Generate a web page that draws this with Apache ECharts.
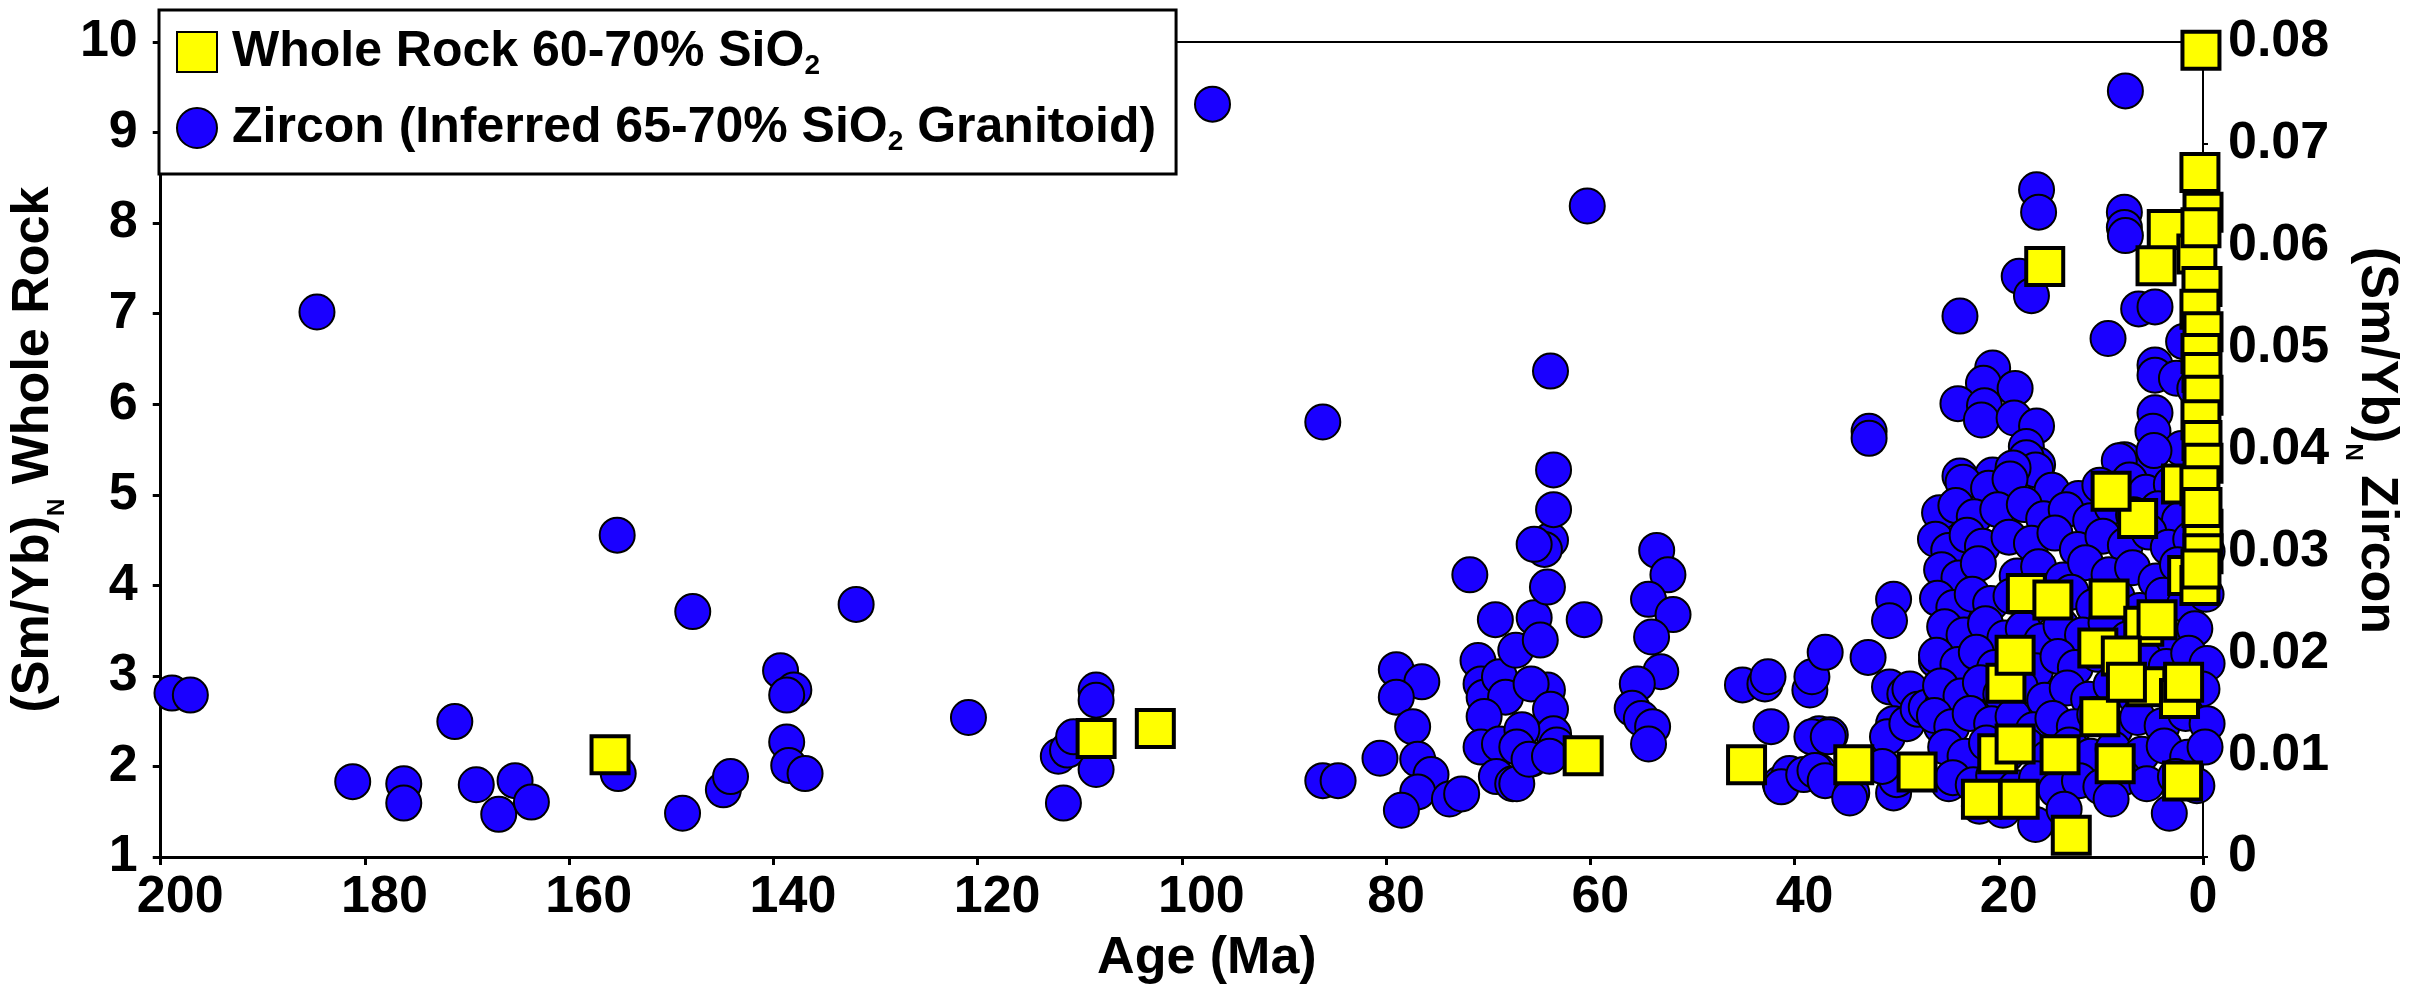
<!DOCTYPE html>
<html><head><meta charset="utf-8">
<script src="https://cdn.jsdelivr.net/npm/echarts@6/dist/echarts.min.js"></script>
<style>html,body{margin:0;padding:0;background:#fff}#c{width:2432px;height:994px}</style>
</head><body><div id="c"></div>
<script>
// ---------- tick labels ----------
const xTickLabels = ['0','20','40','60','80','100','120','140','160','180','200'];
const wholeRockTickLabels = ['1','2','3','4','5','6','7','8','9','10'];
const zirconTickLabels = ['0','0.01','0.02','0.03','0.04','0.05','0.06','0.07','0.08'];

// ---------- series names ----------
const WR_NAME = 'Whole Rock 60-70% SiO2';
const ZR_NAME = 'Zircon (Inferred 65-70% SiO2 Granitoid)';

// ---------- Whole rock: [Age (Ma), (Sm/Yb)N whole rock] ----------
const wholeRockOlder = [
  [156.0,2.13],[108.4,2.31],[102.6,2.42],[60.7,2.12],[44.7,2.02],[34.2,2.02],[28.0,1.94]
];
const wholeRockYoung = [
  [21.7,1.64],[18.0,1.64],[12.9,1.24],[20.1,2.14],[18.4,2.25],[14.0,2.13],[8.6,2.03],[2.0,1.84],
  [10.1,2.55],[19.3,2.92],[18.4,3.23],[17.3,3.91],[14.7,3.84],[9.2,3.85],[5.8,3.55],[4.5,3.62],
  [10.3,3.31],[8.0,3.22],[5.6,2.88],[7.5,2.93],[2.3,2.75],[1.9,2.93],[1.5,4.11],[0.3,4.0],
  [0.0,4.62],[6.4,4.74],[9.0,5.04],[2.1,5.12],[15.5,7.52],[3.5,7.93],[0.6,7.66],[4.6,7.53]
];
const wholeRockModern = [
  [0.2,9.91],[0.3,8.56],[0.0,8.12],[0.2,7.95],[0.1,7.3],[0.3,7.05],[0.0,6.8],[0.2,6.56],
  [0.1,6.35],[0.0,6.1],[0.2,5.83],[0.1,5.6],[0.0,5.35],[0.3,5.1],[0.1,4.86],[0.0,4.35],[0.2,4.18]
];

// ---------- Zircon: [Age (Ma), (Sm/Yb)N zircon] ----------
const zirconOld = [
  [198.9,0.0161],[197.1,0.0159],[184.7,0.0535],[181.2,0.0074],[176.2,0.0072],[176.2,0.0053],
  [171.2,0.0133],[169.1,0.0071],[166.9,0.0042],[165.3,0.0075],[163.7,0.0054],[155.3,0.0316],
  [155.2,0.0082],[147.9,0.0241],[148.9,0.0043],[144.9,0.0066],[144.2,0.0079],[139.3,0.0183],
  [138.0,0.0164],[138.7,0.0159],[138.7,0.0113],[138.5,0.0090],[136.9,0.0082],[131.9,0.0248],
  [120.9,0.0137],[112.1,0.0099],[111.2,0.0105],[110.6,0.0118],[111.6,0.0053],[108.4,0.0164],
  [108.4,0.0154],[108.4,0.0086],[97.0,0.0739],[86.2,0.0427],[86.2,0.0075],[84.7,0.0075]
];
const zirconPaleogene = [
  [80.6,0.0097],[79.0,0.0184],[76.5,0.0172],[79.0,0.0157],[77.4,0.0128],[76.9,0.0096],[75.6,0.0081],
  [76.9,0.0064],[78.5,0.0046],[73.8,0.0057],[72.6,0.0062],[71.8,0.0277],[69.3,0.0233],[71.0,0.0193],
  [70.7,0.0170],[70.4,0.0157],[68.9,0.0177],[68.3,0.0157],[70.4,0.0138],[70.7,0.0108],[68.9,0.0111],
  [69.2,0.0079],[67.6,0.0072],[67.3,0.0203],[65.5,0.0235],[64.9,0.0213],[64.2,0.0265],[63.9,0.0311],
  [63.6,0.0341],[64.5,0.0302],[65.5,0.0307],[64.2,0.0164],[65.8,0.0170],[63.9,0.0145],[63.6,0.0121],
  [65.8,0.0096],[66.7,0.0125],[63.3,0.0110],[60.6,0.0233],[60.3,0.0639],[63.9,0.0477],[63.6,0.0380],
  [67.2,0.0108],[67.2,0.0072],[66.0,0.0096],[64.0,0.0099],[53.5,0.0301],[52.4,0.0277],[54.3,0.0253],
  [51.9,0.0238],[54.0,0.0216],[53.1,0.0182],[55.4,0.0170],[55.9,0.0146],[55.0,0.0136],[53.9,0.0128],
  [54.3,0.0111],[45.1,0.0169],[42.9,0.0170],[42.6,0.0177],[42.3,0.0128],[41.4,0.0072],[40.5,0.0082],
  [41.3,0.0069],[38.5,0.0164],[38.3,0.0177],[37.0,0.0201],[37.6,0.0121],[36.5,0.0120],[39.1,0.0081],
  [37.6,0.0084],[38.3,0.0118],[36.7,0.0118],[38.0,0.0085],[37.0,0.0075],[32.8,0.0196],[32.7,0.0418],
  [32.7,0.0411],[30.7,0.0167],[29.2,0.0160],[30.3,0.0253],[30.7,0.0232],[30.3,0.0131],[30.9,0.0118],
  [29.0,0.0131],[30.3,0.0063],[34.4,0.0063],[30.0,0.0076],[31.4,0.0089],[34.6,0.0058],[28.7,0.0165],
  [27.9,0.0145],[27.1,0.0147]
];
const zirconNeogeneHigh = [
  [26.1,0.0193],[24.6,0.0219],[25.7,0.0131],[25.5,0.0150],[24.9,0.0072],[25.6,0.0128],
  [16.3,0.0655],[16.1,0.0633],[7.7,0.0633],[7.7,0.0618],[7.6,0.0752],[18.0,0.0570],[16.8,0.0551],
  [23.8,0.0531],[6.3,0.0538],[4.7,0.0540],[9.3,0.0509],[1.9,0.0506],[4.7,0.0483],[4.7,0.0473],
  [20.6,0.0480],[21.5,0.0465],[18.4,0.0460],[24.0,0.0445],[21.4,0.0443],[21.7,0.0429],[18.5,0.0431],
  [16.3,0.0423],[17.3,0.0403],[16.2,0.0385],[4.7,0.0436],[4.9,0.0418],[4.7,0.0372],[7.7,0.0390],
  [23.8,0.0374],[20.6,0.0375],[18.4,0.0380],[0.4,0.0404],[2.6,0.0470],[2.1,0.0401],[5.6,0.0379],
  [17.3,0.0392],[16.4,0.0380],[18.6,0.0382],[8.2,0.0389],[11.9,0.0350],[7.6,0.0610],[4.8,0.0399],
  [0.8,0.0460]
];
const zirconNeogeneCluster = [
  [23.5,0.0368],[21.0,0.0362],[18.9,0.0371],[14.8,0.0360],[12.2,0.0352],[10.1,0.0365],[7.2,0.0370],[5.6,0.0358],[3.1,0.0366],[1.0,0.0362],
  [25.8,0.0338],[24.2,0.0345],[22.4,0.0334],[20.1,0.0341],[17.5,0.0346],[15.6,0.0332],[13.4,0.0341],[11.0,0.0330],[8.9,0.0344],[6.8,0.0336],[4.4,0.0342],[2.3,0.0331],[0.2,0.0347],
  [26.2,0.0312],[24.9,0.0301],[23.1,0.0316],[21.6,0.0305],[19.0,0.0314],[16.8,0.0308],[14.5,0.0318],[12.3,0.0302],[9.8,0.0315],[7.6,0.0306],[5.3,0.0319],[3.4,0.0304],[1.2,0.0312],[-0.4,0.0300],
  [25.6,0.0282],[23.9,0.0274],[22.0,0.0288],[18.2,0.0276],[16.1,0.0285],[13.7,0.0272],[11.5,0.0289],[9.2,0.0277],[6.9,0.0284],[4.6,0.0271],[2.5,0.0287],[0.4,0.0276],
  [26.0,0.0254],[24.4,0.0245],[22.6,0.0258],[20.8,0.0249],[18.8,0.0256],[17.0,0.0243],[15.1,0.0252],[12.9,0.0260],[10.7,0.0246],[8.4,0.0255],[6.2,0.0242],[3.9,0.0257],[1.8,0.0248],[-0.3,0.0258],
  [25.3,0.0226],[23.4,0.0218],[21.3,0.0229],[19.4,0.0215],[17.6,0.0224],[15.8,0.0212],[13.9,0.0227],[11.8,0.0218],[9.5,0.0230],[7.4,0.0214],[5.0,0.0225],[2.9,0.0212],[0.8,0.0224],
  [26.1,0.0198],[24.0,0.0189],[22.2,0.0201],[20.4,0.0186],[18.5,0.0195],[16.4,0.0183],[14.2,0.0197],[12.5,0.0186],[10.3,0.0199],[8.1,0.0184],[5.8,0.0196],[3.6,0.0187],[1.4,0.0200],[-0.4,0.0190],
  [25.7,0.0168],[23.7,0.0158],[21.8,0.0171],[19.8,0.0160],[17.9,0.0167],[15.5,0.0154],[13.3,0.0166],[11.2,0.0155],[9.0,0.0169],[6.6,0.0157],[4.3,0.0167],[2.1,0.0155],[0.1,0.0165],
  [26.3,0.0139],[24.6,0.0128],[22.8,0.0141],[20.7,0.0131],[18.6,0.0138],[16.6,0.0125],[14.7,0.0136],[12.6,0.0128],[10.6,0.0140],[8.6,0.0126],[6.4,0.0137],[4.0,0.0129],[1.7,0.0141],[-0.4,0.0131],
  [25.2,0.0108],[23.3,0.0099],[21.2,0.0112],[19.2,0.0101],[17.2,0.0109],[15.2,0.0097],[13.1,0.0110],[11.0,0.0099],[8.8,0.0106],[6.0,0.0101],[3.8,0.0109],[1.5,0.0098],[-0.2,0.0108],
  [24.5,0.0078],[22.5,0.0071],[20.5,0.0080],[18.3,0.0068],[16.3,0.0077],[14.4,0.0066],[12.1,0.0075],[10.0,0.0069],[7.8,0.0078],[5.5,0.0072],[2.7,0.0079],[0.6,0.0070],
  [21.9,0.0050],[19.6,0.0046],[16.4,0.0032],[13.6,0.0047],[9.0,0.0057],[3.3,0.0043]
];

const FONT = '"Liberation Sans", Arial, Helvetica, sans-serif';
const BLACK = '#000';
const txt = (size, extra) => Object.assign({fontFamily: FONT, fontSize: size, fontWeight: 'bold', color: BLACK}, extra || {});

const chart = echarts.init(document.getElementById('c'), null, {renderer: 'canvas'});

const option = {
  backgroundColor: '#fff',
  animation: false,
  grid: {left: 138, right: 229, top: 42, bottom: 133, show: true, borderColor: BLACK, borderWidth: 2, backgroundColor: 'transparent'},
  legend: {
    orient: 'vertical', left: 159, top: 10,
    data: [WR_NAME, ZR_NAME],
    itemWidth: 40, itemHeight: 40, itemGap: 23,
    padding: [17, 20, 18, 17],
    borderColor: BLACK, borderWidth: 3, borderRadius: 0, backgroundColor: '#fff',
    selectedMode: false,
    formatter: function (n) {
      return n === WR_NAME
        ? '{m|Whole Rock 60-70% SiO}{s|2}'
        : '{m|Zircon (Inferred 65-70% SiO}{s|2}{m| Granitoid)}';
    },
    textStyle: txt(50, {padding: [0, 0, 0, 10], rich: {
      m: txt(50, {lineHeight: 56}),
      s: txt(28, {lineHeight: 20, verticalAlign: 'bottom'})
    }})
  },
  xAxis: {
    type: 'value', inverse: true, min: 0, max: 200, interval: 20,
    name: 'Age (Ma)', nameLocation: 'middle', nameGap: 67,
    nameTextStyle: txt(52, {lineHeight: 60, padding: [0, 0, 0, 50]}),
    axisLine: {show: true, onZero: false, lineStyle: {color: BLACK, width: 3}},
    axisTick: {show: true, length: 8, lineStyle: {color: BLACK, width: 3}},
    axisLabel: {
      margin: 11,
      formatter: function (v) { const t = xTickLabels[Math.round(v / 20)]; return '{d' + t.length + '|' + t + '}'; },
      rich: {
        d1: txt(52, {lineHeight: 60}),
        d2: txt(52, {lineHeight: 60, padding: [0, 0, 0, 20]}),
        d3: txt(52, {lineHeight: 60, padding: [0, 0, 0, 39]})
      }
    },
    splitLine: {show: false}
  },
  yAxis: [
    {
      type: 'value', position: 'left', min: 1, max: 10, interval: 1,
      name: '{m|(Sm/Yb)}{s|N}{m| Whole Rock}', nameLocation: 'middle', nameGap: 66,
      nameTextStyle: {rich: {
        m: txt(52, {lineHeight: 70}),
        s: txt(24, {lineHeight: 14, verticalAlign: 'bottom'})
      }},
      axisLine: {show: true, onZero: false, lineStyle: {color: BLACK, width: 3}},
      axisTick: {show: true, length: 8, lineStyle: {color: BLACK, width: 3}},
      axisLabel: Object.assign(txt(52), {margin: 23, formatter: function (v) { return wholeRockTickLabels[Math.round(v) - 1]; }}),
      splitLine: {show: false}
    },
    {
      type: 'value', position: 'right', min: 0, max: 0.08, interval: 0.01,
      name: '{m|(Sm/Yb)}{s|N}{m| Zircon}', nameLocation: 'middle', nameGap: 138, nameRotate: -90,
      nameTextStyle: {padding: [0, 18, 0, 0], rich: {
        m: txt(52, {lineHeight: 70}),
        s: txt(24, {lineHeight: 14, verticalAlign: 'bottom'})
      }},
      axisLine: {show: true, onZero: false, lineStyle: {color: BLACK, width: 2}},
      axisTick: {show: true, length: 5, lineStyle: {color: BLACK, width: 2}},
      axisLabel: Object.assign(txt(52), {margin: 25, formatter: function (v) { return zirconTickLabels[Math.round(v / 0.01)]; }}),
      splitLine: {show: false}
    }
  ],
  series: [
    {
      name: ZR_NAME, type: 'scatter', yAxisIndex: 1, clip: false, silent: true,
      symbol: 'circle', symbolSize: 35,
      itemStyle: {color: '#1a00ff', borderColor: BLACK, borderWidth: 2, opacity: 1},
      data: zirconOld.concat(zirconPaleogene, zirconNeogeneHigh, zirconNeogeneCluster)
    },
    {
      name: WR_NAME, type: 'scatter', yAxisIndex: 0, clip: false, silent: true,
      symbol: 'rect', symbolSize: 37,
      itemStyle: {color: '#ffff00', borderColor: BLACK, borderWidth: 4, opacity: 1},
      data: wholeRockOlder.concat(wholeRockYoung, wholeRockModern)
    }
  ]
};
chart.setOption(option);
</script>
</body></html>
